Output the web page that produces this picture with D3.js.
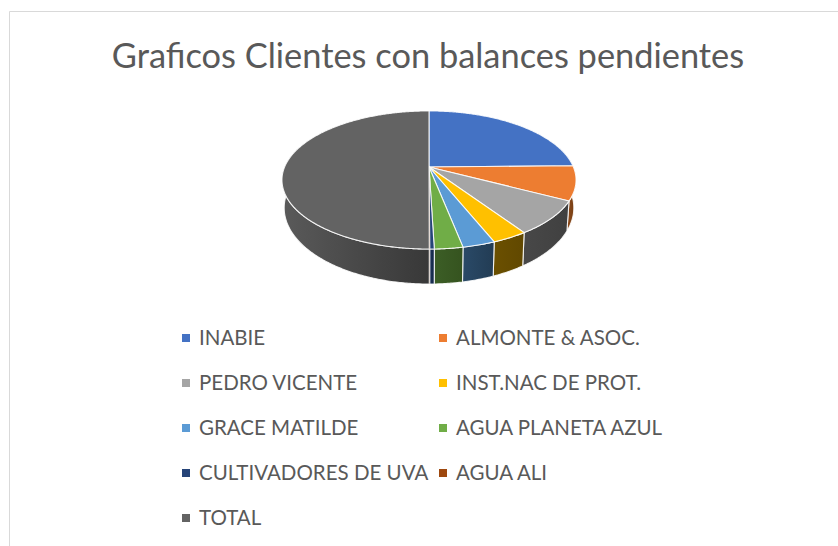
<!DOCTYPE html>
<html>
<head>
<meta charset="utf-8">
<script src="https://cdn.jsdelivr.net/npm/d3@7"></script>
<style>
html,body{margin:0;padding:0;background:#fff;}
svg{display:block;}
</style>
</head>
<body>
<script>
var categories = ["INABIE","ALMONTE & ASOC.","PEDRO VICENTE","INST.NAC DE PROT.","GRACE MATILDE","AGUA PLANETA AZUL","CULTIVADORES DE UVA","AGUA ALI","TOTAL"];
var values = [24.7,8.0,7.9,3.3,3.0,2.6,0.4,0.05,50];
var colors = ["#4472c4","#ed7d31","#a5a5a5","#ffc000","#5b9bd5","#70ad47","#264478","#9e480e","#636363"];
var wallLeft = ["#2c4a80","#8f4c1c","#484848","#6b5000","#2a4a68","#3c5e26","#1a2f55","#6b3009","#5a5a5a"];
var wallRight = ["#2c4a80","#6f3a12","#404040","#614800","#223c54","#35531f","#162a4b","#6b3009","#383838"];
var title = "Graficos Clientes con balances pendientes";

var width = 838;
var height = 546;

var svg = d3.select("body").append("svg")
    .attr("width",width)
    .attr("height",height);

// chart frame, only top and left show in the crop
svg.append("line").attr("x1",9.5).attr("y1",11.5).attr("x2",width).attr("y2",11.5)
    .attr("stroke","#d9d9d9").attr("stroke-width",1);
svg.append("line").attr("x1",9.5).attr("y1",11.5).attr("x2",9.5).attr("y2",height)
    .attr("stroke","#d9d9d9").attr("stroke-width",1);

svg.append("text")
    .text(title)
    .attr("x",428)
    .attr("y",68)
    .attr("text-anchor","middle")
    .style("font-family","Lato")
    .style("font-size","34.4px")
    .style("fill","#595959");

// perspective projection of the pie disc
var cx = 429, topY = 167, sideY = 193.5;
var persp = 0.188, rx = 144.4, ry = 66.6;

function project(a,base) {
    var u = Math.sin(a), v = -Math.cos(a);
    var w = 1-persp*v;
    if(base) return [cx+0.985*rx*u/w, sideY+1.104*ry*v/w];
    return [cx+rx*u/w, topY+ry*v/w];
}

function arcPoints(a0,a1,base) {
    var n = Math.max(2,Math.ceil((a1-a0)/0.01));
    return d3.range(n+1).map(function(i){ return project(a0+(a1-a0)*i/n,base); });
}

var line = d3.line();
var slices = d3.pie().sort(null)(values);
var defs = svg.append("defs");

// walls first, the top goes over them
var wallFrom = 70*Math.PI/180, wallTo = 290*Math.PI/180;
slices.forEach(function(d,i){
    var a0 = Math.max(d.startAngle,wallFrom), a1 = Math.min(d.endAngle,wallTo);
    if(a1<=a0) return;
    var top = arcPoints(a0,a1,false);
    var bottom = arcPoints(a0,a1,true).reverse();
    var xs = top.concat(bottom).map(function(p){ return p[0]; });
    var grad = defs.append("linearGradient")
        .attr("id","wall"+i)
        .attr("gradientUnits","userSpaceOnUse")
        .attr("x1",d3.min(xs)).attr("x2",d3.max(xs))
        .attr("y1",0).attr("y2",0);
    grad.append("stop").attr("offset",0).attr("stop-color",wallLeft[i]);
    grad.append("stop").attr("offset",1).attr("stop-color",wallRight[i]);
    svg.append("path")
        .attr("d",line(top.concat(bottom))+"Z")
        .attr("fill","url(#wall"+i+")")
        .attr("stroke","#fff")
        .attr("stroke-width",values[i]<0.2?0:1.1)
        .attr("stroke-opacity",0.85);
});

slices.forEach(function(d,i){
    var pts = [[cx,topY]].concat(arcPoints(d.startAngle,d.endAngle,false));
    svg.append("path")
        .attr("d",line(pts)+"Z")
        .attr("fill",colors[i])
        .attr("stroke","#fff")
        .attr("stroke-width",values[i]<0.2?0:1.1)
        .attr("stroke-opacity",0.85)
        .attr("stroke-linejoin","round");
});

// legend
var rowY = d3.scalePoint().domain(d3.range(5)).range([338,518]);
var colX = d3.scalePoint().domain([0,1]).range([182,439]);

categories.forEach(function(c,i){
    var col = i%2, row = Math.floor(i/2);
    svg.append("rect")
        .attr("x",colX(col))
        .attr("y",rowY(row)-4)
        .attr("width",8)
        .attr("height",8)
        .attr("fill",colors[i]);
    svg.append("text")
        .text(c)
        .attr("x",colX(col)+17)
        .attr("y",rowY(row)+7)
        .style("font-family","Lato")
        .style("font-size","20.5px")
        .style("fill","#595959");
});
</script>
</body>
</html>
